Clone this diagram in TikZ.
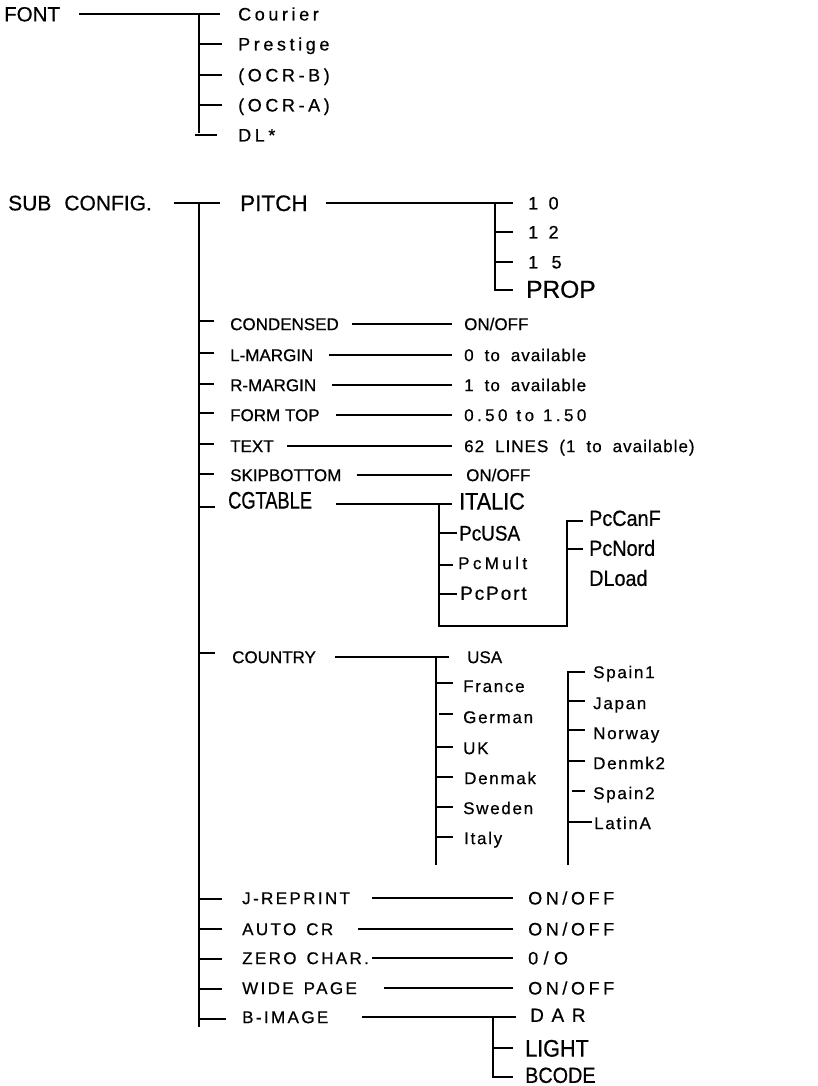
\documentclass[tikz,border=0pt]{standalone}
\usepackage{fontspec}
\setmainfont{Liberation Sans}[FakeBold=0.6]
\newfontfamily\fLsA{Liberation Sans}[LetterSpace=20,FakeBold=0.6]
\newfontfamily\fLsB{Liberation Sans}[LetterSpace=10,FakeBold=0.6]
\newfontfamily\fLsF{Liberation Sans}[LetterSpace=14,FakeBold=0.6]
\newfontfamily\fLsH{Liberation Sans}[LetterSpace=6,FakeBold=0.6]
\newfontfamily\fLsC{Liberation Sans}[LetterSpace=30,FakeBold=0.6]
\newfontfamily\fLsE{Liberation Sans}[LetterSpace=40,FakeBold=0.6]
\newfontfamily\fNar{Liberation Sans}[FakeStretch=0.9,FakeBold=0.6]
\newfontfamily\fNarB{Liberation Sans}[FakeStretch=0.76,FakeBold=0.6]
\begin{document}
\begin{tikzpicture}[x=1pt,y=-1pt,
  bar/.style={line width=2.8pt, line cap=rect},
  thk/.style={line width=2.8pt},
  con/.style={line width=1.8pt},
  tx/.style={anchor=west, inner sep=0pt, text depth=0pt},
  hd/.style={tx, text height=14.7pt, font={\fontsize{20.5}{24}\selectfont}},
  fl/.style={tx, text height=12.9pt, font={\fontsize{18}{22}\fLsA}},
  pt/.style={tx, text height=16.1pt, font={\fontsize{22.5}{26}\selectfont}},
  pr/.style={tx, text height=17.5pt, font={\fontsize{24.5}{28}\selectfont}},
  num/.style={tx, text height=12.9pt, font={\fontsize{18}{22}\fLsC}},
  mid/.style={tx, text height=12.2pt, font={\fontsize{17}{20}\selectfont}},
  midb/.style={tx, text height=12.2pt, font={\fontsize{17}{20}\fLsB}},
  midw/.style={tx, text height=12.2pt, font={\fontsize{17}{20}\fLsH\spaceskip=11pt\relax}},
  mida/.style={tx, text height=12.2pt, font={\fontsize{17}{20}\fLsA\spaceskip=9pt\relax}},
  bot/.style={tx, text height=12.2pt, font={\fontsize{17}{20}\fLsF\spaceskip=10pt\relax}},
  botv/.style={tx, text height=12.9pt, font={\fontsize{18}{22}\fLsA}},
  nar/.style={tx, text height=#1, font={\fontsize{22}{26}\fNar}},
  nar/.default=15.8pt,
]
\useasboundingbox (0,0) rectangle (818,1086);

% ---------------- FONT ----------------
\node[hd] (font) at (4,14) {FONT};
\node[fl] (courier) at (238,14) {Courier};
\node[fl] (prestige) at (238,44) {Prestige};
\node[fl] (ocrb) at (238,75) {(OCR-B)};
\node[fl] (ocra) at (238,105) {(OCR-A)};
\node[fl] (dl) at (238,135) {DL*};
\coordinate (fbt) at (199,14);
\coordinate (fbb) at (199,132);
\draw[thk, shorten <=19pt, shorten >=18pt] (font) -- (courier);
\draw[bar] (fbt) -- (fbb);
\draw[bar] (fbt |- prestige) -- ++(22,0);
\draw[bar] (fbt |- ocrb) -- ++(22,0);
\draw[bar] (fbt |- ocra) -- ++(22,0);
\draw[bar] (196,135) -- (216,135);

% ---------------- SUB CONFIG ----------------
\node[hd, font={\fontsize{21}{24}\selectfont}] (sub) at (8,203) {SUB\hspace{0.62em}CONFIG.};
\node[pt] (pitch) at (240,203) {PITCH};
\coordinate (mbt) at (199,203);
\coordinate (mbb) at (199,1026);
\draw[thk, shorten <=22pt, shorten >=20pt] (sub) -- (pitch);
\draw[bar] (mbt) -- (mbb);

% PITCH
\node[num] (p10) at (528,203) {1 0};
\node[num] (p12) at (528,232) {1 2};
\node[num] (p15) at (528,262) {1\ \,5};
\node[pr] (prop) at (526,289) {PROP};
\coordinate (pbt) at (495,203);
\coordinate (pbb) at (495,290);
\draw[thk, shorten <=18pt, shorten >=15pt] (pitch) -- (p10);
\draw[bar] (pbt) -- (pbb) -- ++(17,0);
\draw[bar] (pbt |- p12) -- ++(17,0);
\draw[bar] (pbt |- p15) -- ++(17,0);

% simple rows
\node[mid] (cond) at (230,324) {CONDENSED};
\node[mid] (condv) at (464,324) {ON/OFF};
\draw[bar] (199,321) -- ++(14,0);
\draw[con, shorten <=13pt, shorten >=12pt] (cond) -- (condv);

\node[mid] (lm) at (230,355) {L-MARGIN};
\node[midw] (lmv) at (464,355) {0 to available};
\draw[bar] (199,353) -- ++(14,0);
\draw[con, shorten <=15pt, shorten >=12pt] (lm) -- (lmv);

\node[mid] (rm) at (230,385) {R-MARGIN};
\node[midw] (rmv) at (464,385) {1 to available};
\draw[bar] (199,384) -- ++(14,0);
\draw[con, shorten <=16pt, shorten >=12pt] (rm) -- (rmv);

\node[mid] (ft) at (230,415) {FORM TOP};
\node[mida] (ftv) at (464,415) {0.50 to 1.50};
\draw[bar] (199,413) -- ++(14,0);
\draw[con, shorten <=16pt, shorten >=12pt] (ft) -- (ftv);

\node[mid] (text) at (230,446) {TEXT};
\node[midw] (textv) at (464,446) {62 LINES (1 to available)};
\draw[bar] (199,444) -- ++(14,0);
\draw[con, shorten <=13pt, shorten >=12pt] (text) -- (textv);

\node[mid] (skip) at (230,475) {SKIPBOTTOM};
\node[mid] (skipv) at (466,475) {ON/OFF};
\draw[bar] (199,474) -- ++(14,0);
\draw[con, shorten <=15pt, shorten >=14pt] (skip) -- (skipv);

% CGTABLE
\node[tx, text height=17.2pt, font={\fontsize{24}{28}\fNarB}] (cg) at (228,500) {CGTABLE};
\node[nar=17.2pt, font={\fontsize{24}{28}\fNar}] (italic) at (459,501) {ITALIC};
\node[nar=15pt, font={\fontsize{21}{25}\fNar}] (pcusa) at (459,533) {PcUSA};
\node[tx, text height=12.2pt, font={\fontsize{17}{20}\fLsA}] (pcmult) at (458,563) {PcMult};
\node[tx, text height=13.6pt, font={\fontsize{19}{22}\fLsB}] (pcport) at (460,593) {PcPort};
\node[nar] (pccanf) at (589,518) {PcCanF};
\node[nar] (pcnord) at (589,548) {PcNord};
\node[nar] (dload) at (589,578) {DLoad};
\draw[bar] (199,507) -- ++(15,0);
\coordinate (cgs) at (336,504);
\coordinate (cgj) at (439,504);
\coordinate (cge) at (452,504);
\coordinate (cgb) at (439,626);
\coordinate (cgr) at (567,626);
\coordinate (cgrt) at (567,521);
\draw[thk] (cgs) -- (cge);
\draw[bar] (cgj) -- (cgb) -- (cgr) -- (cgrt);
\draw[bar] (cgj |- 0,533) -- ++(17,0);
\draw[bar] (cgj |- 0,565) -- ++(13,0);
\draw[bar] (cgj |- 0,594) -- ++(17,0);
\draw[bar] (cgrt) -- ++(15,0);
\draw[bar] (cgrt |- 0,549) -- ++(15,0);

% COUNTRY
\node[mid] (country) at (232,657) {COUNTRY};
\node[mid] (usa) at (467,657) {USA};
\draw[bar] (199,653) -- ++(15,0);
\draw[con, shorten <=19pt, shorten >=18pt] (country) -- (usa);
\coordinate (cbt) at (436,657);
\coordinate (cbb) at (436,864);
\draw[bar] (cbt) -- (cbb);
\node[midb] (france) at (463,686) {France};
\node[midb] (german) at (463,717) {German};
\node[midb] (uk) at (463,748) {UK};
\node[midb] (denmak) at (464,778) {Denmak};
\node[midb] (sweden) at (463,808) {Sweden};
\node[midb] (italy) at (464,838) {Italy};
\draw[bar] (436,683) -- ++(16,0);
\draw[bar] (440,714) -- ++(12,0);
\draw[bar] (436,747) -- ++(16,0);
\draw[bar] (436,777) -- ++(16,0);
\draw[bar] (436,807) -- ++(16,0);
\draw[bar] (436,837) -- ++(16,0);
\coordinate (rbt) at (568,672);
\coordinate (rbb) at (568,864);
\draw[bar] (rbt) -- (rbb);
\node[midb] (spain1) at (593,672) {Spain1};
\node[midb] (japan) at (593,703) {Japan};
\node[midb] (norway) at (593,733) {Norway};
\node[midb] (denmk2) at (593,763) {Denmk2};
\node[midb] (spain2) at (593,793) {Spain2};
\node[midb] (latina) at (594,823) {LatinA};
\draw[bar] (rbt) -- ++(16,0);
\draw[bar] (568,701) -- ++(16,0);
\draw[bar] (568,730) -- ++(16,0);
\draw[bar] (568,761) -- ++(16,0);
\draw[bar] (573,791) -- ++(11,0);
\draw[bar] (568,822) -- ++(23,0);

% bottom rows
\node[bot] (jr) at (242,898) {J-REPRINT};
\node[botv] (jrv) at (528,898) {ON/OFF};
\draw[bar] (199,899) -- ++(22,0);
\draw[con, shorten <=22pt, shorten >=15pt] (jr) -- (jrv);

\node[bot] (acr) at (242,929) {AUTO CR};
\node[botv] (acrv) at (528,929) {ON/OFF};
\draw[bar] (199,929) -- ++(22,0);
\draw[con, shorten <=25pt, shorten >=15pt] (acr) -- (acrv);

\node[bot] (zc) at (242,958) {ZERO CHAR.};
\node[tx, text height=12.9pt, font={\fontsize{18}{22}\fLsC}] (zcv) at (528,958) {0/O};
\draw[bar] (199,959) -- ++(22,0);
\draw[con, shorten <=3pt, shorten >=15pt] (zc) -- (zcv);

\node[bot] (wp) at (242,988) {WIDE PAGE};
\node[botv] (wpv) at (528,988) {ON/OFF};
\draw[bar] (199,989) -- ++(22,0);
\draw[con, shorten <=27pt, shorten >=15pt] (wp) -- (wpv);

\node[bot] (bi) at (242,1017) {B-IMAGE};
\node[tx, text height=13.6pt, font={\fontsize{19}{22}\fLsE}] (dar) at (530,1015) {DAR};
\node[nar=17.2pt, font={\fontsize{24}{28}\fNar}] (light) at (525,1048) {LIGHT};
\node[nar] (bcode) at (525,1075) {BCODE};
\draw[bar] (199,1019) -- ++(26,0);
\coordinate (bis) at (362,1017);
\coordinate (bie) at (516,1017);
\coordinate (bbt) at (493,1017);
\coordinate (bbb) at (493,1077);
\draw[thk] (bis) -- (bie);
\draw[bar] (bbt) -- (bbb) -- ++(19,0);
\draw[bar] (bbt |- light) -- ++(19,0);
\end{tikzpicture}
\end{document}
